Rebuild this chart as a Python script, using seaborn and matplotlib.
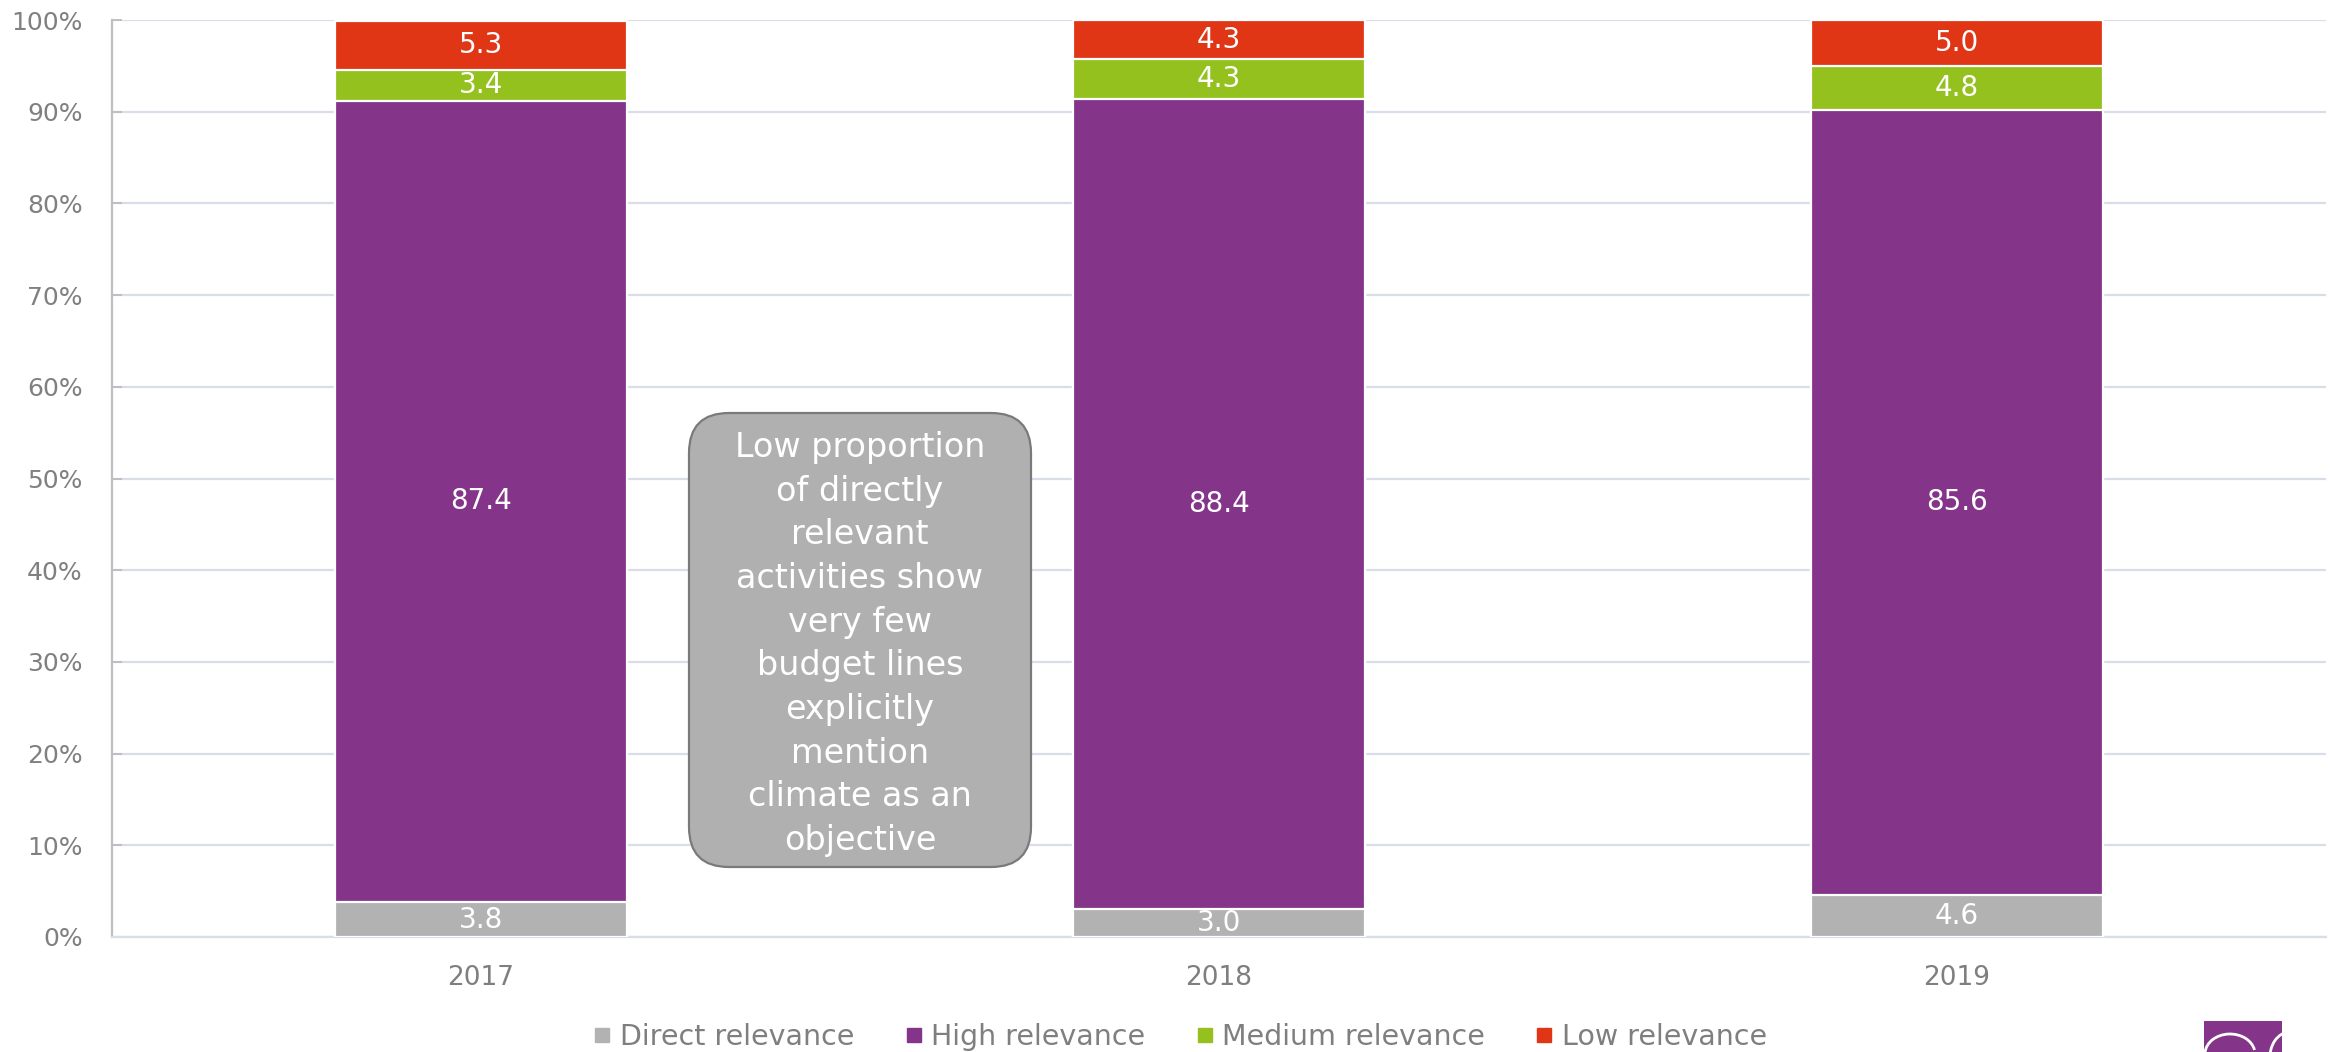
import matplotlib
matplotlib.use("Agg")
import matplotlib.pyplot as plt
import seaborn as sns
import numpy as np
import pandas as pd
from matplotlib.patches import FancyBboxPatch, Rectangle, Arc
from matplotlib.lines import Line2D

# ---- data ----
years = ["2017", "2018", "2019"]
categories = ["Direct relevance", "High relevance", "Medium relevance", "Low relevance"]
direct = [3.8, 3.0, 4.6]
high = [87.4, 88.4, 85.6]
medium = [3.4, 4.3, 4.8]
low = [5.3, 4.3, 5.0]
colors = ["#B2B2B2", "#84358A", "#95C11F", "#E03616"]
callout_text = ("Low proportion\nof directly\nrelevant\nactivities show\nvery few\n"
                "budget lines\nexplicitly\nmention\nclimate as an\nobjective")

sns.set_theme(style="white")
plt.rcParams["font.family"] = ["DejaVu Sans"]

W, H = 2333, 1052
fig = plt.figure(figsize=(W / 100, H / 100), dpi=100)
ax = fig.add_axes([112 / W, 1 - 937 / H, (2326 - 112) / W, (937 - 20) / H])

series = [direct, high, medium, low]
cums = np.cumsum(np.array(series), axis=0)
bottoms = np.vstack([np.zeros(len(years)), cums[:-1]])

# draw cumulative bars from top layer to bottom (overlap technique)
for k in range(len(series) - 1, -1, -1):
    df = pd.DataFrame({"year": years, "value": cums[k]})
    sns.barplot(data=df, x="year", y="value", color=colors[k], width=0.396,
                edgecolor="white", linewidth=1.6, saturation=1, ax=ax, zorder=3)

# value labels
for k, vals in enumerate(series):
    for i, v in enumerate(vals):
        ax.text(i, bottoms[k][i] + v / 2, f"{v:.1f}", ha="center", va="center",
                color="white", fontsize=20, zorder=5)

ax.set_xlim(-0.5, 2.5)
ax.set_ylim(0, 100)
ax.set_yticks(np.arange(0, 101, 10))
ax.set_yticklabels([f"{t}%" for t in range(0, 101, 10)])
ax.set_xlabel("")
ax.set_ylabel("")
ax.grid(axis="y", color="#D9DDE9", linewidth=1.6, zorder=0)
ax.set_axisbelow(True)
for s in ["top", "right"]:
    ax.spines[s].set_visible(False)
ax.spines["left"].set_color("#BFBFBF")
ax.spines["left"].set_linewidth(1.6)
ax.spines["bottom"].set_color("#D9DDE9")
ax.spines["bottom"].set_linewidth(1.6)
ax.tick_params(axis="y", direction="in", length=7, width=1.4, color="#BFBFBF",
               labelsize=18, labelcolor="#808080", pad=21, left=True)
ax.tick_params(axis="x", length=0, labelsize=19, labelcolor="#7F7F7F", pad=20)

# callout box
x0, y0 = 689 / W, 1 - 867 / H
bw, bh = (1031 - 689) / W, (867 - 413) / H
box = FancyBboxPatch((x0, y0), bw, bh,
                     boxstyle=f"round,pad=0,rounding_size={40 / W}",
                     mutation_aspect=W / H, transform=fig.transFigure,
                     facecolor="#B0B0B0", edgecolor="#7A7A7A", linewidth=1.6, zorder=10)
fig.patches.append(box)
fig.text(860 / W, 1 - 644 / H, callout_text, ha="center", va="center",
         color="white", fontsize=24, linespacing=1.41, zorder=11)

# legend
handles = [Line2D([0], [0], marker="s", linestyle="none", markersize=10.5,
                  markerfacecolor=c, markeredgecolor=c) for c in colors]
fig.legend(handles, categories, loc="center", bbox_to_anchor=(1181 / W, 1 - 1037 / H),
           ncol=4, frameon=False, fontsize=20.5, labelcolor="#7F7F7F",
           handlelength=0.5, handletextpad=0.35, columnspacing=1.85)

# logo fragment bottom-right
fig.patches.append(Rectangle((2204 / W, 0), 78 / W, 31 / H, transform=fig.transFigure,
                             facecolor="#84358A", edgecolor="none"))
fig.patches.append(Arc((2230 / W, -2 / H), 50 / W, 40 / H, theta1=20, theta2=170,
                       transform=fig.transFigure, color="white", linewidth=2))
fig.patches.append(Arc((2290 / W, -5 / H), 40 / W, 50 / H, theta1=90, theta2=200,
                       transform=fig.transFigure, color="white", linewidth=2))

fig.savefig("out.png", dpi=100)
